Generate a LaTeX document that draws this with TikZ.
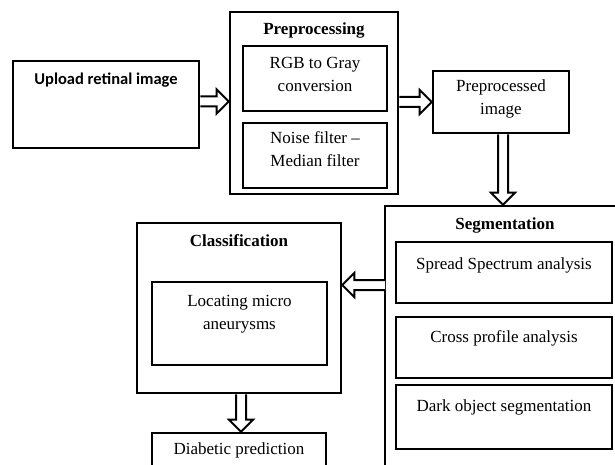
\documentclass[tikz,border=0pt]{standalone}
\usepackage{fontspec}
\setmainfont{Liberation Serif}
\newfontfamily\calib{Carlito}
\usetikzlibrary{calc}
\begin{document}
\begin{tikzpicture}[x=1pt,y=-1pt,
  box/.style={draw, line width=2.6pt, rectangle, inner sep=0pt},
  txt/.style={font=\fontsize{17}{23}\selectfont, align=center, inner sep=0pt},
  ttl/.style={font=\fontsize{17}{22}\selectfont\bfseries, inner sep=0pt},
  dbl/.style={draw, fill=white, line width=2pt, line join=miter,
    to path={($(\tikztostart)!5pt!90:(\tikztotarget)$)
      -- ($($(\tikztotarget)!12pt!(\tikztostart)$)!5pt!90:(\tikztotarget)$)
      -- ($($(\tikztotarget)!12pt!(\tikztostart)$)!12pt!90:(\tikztotarget)$)
      -- (\tikztotarget)
      -- ($($(\tikztotarget)!12pt!(\tikztostart)$)!12pt!-90:(\tikztotarget)$)
      -- ($($(\tikztotarget)!12pt!(\tikztostart)$)!5pt!-90:(\tikztotarget)$)
      -- ($(\tikztostart)!5pt!-90:(\tikztotarget)$)}}]
\clip (0,0) rectangle (615,465);
\fill[white] (0,0) rectangle (615,465);
% boxes
\node[box, minimum width=186pt, minimum height=87pt] (upload) at (106,104.5) {};
\node[font=\calib\fontsize{16.5}{18}\selectfont\bfseries, inner sep=0pt] at (106,80) {Upload retinal image};
\node[box, minimum width=168pt, minimum height=182pt] (pre) at (314,103) {};
\node[ttl] at (314,30) {Preprocessing};
\node[box, minimum width=144pt, minimum height=65pt] (rgb) at (315,78.5) {};
\node[txt] at (315,74) {RGB to Gray\\conversion};
\node[box, minimum width=144pt, minimum height=65pt] (noise) at (315,155.5) {};
\node[txt] at (315,149) {Noise filter --\\Median filter};
\node[box, minimum width=136pt, minimum height=62pt] (ppi) at (501,102) {};
\node[txt] at (501,98.5) {Preprocessed\\image};
\node[box, minimum width=250pt, minimum height=280pt] (seg) at (510,346) {};
\node[ttl] at (505,225) {Segmentation};
\node[box, minimum width=216pt, minimum height=61pt] (spr) at (504,272.5) {};
\node[txt] at (504,265) {Spread Spectrum analysis};
\node[box, minimum width=216pt, minimum height=61pt] (cross) at (504,347.5) {};
\node[txt] at (504,338) {Cross profile analysis};
\node[box, minimum width=216pt, minimum height=64pt] (dark) at (504,417) {};
\node[txt] at (504,407) {Dark object segmentation};
\node[box, minimum width=204pt, minimum height=170pt] (cls) at (239,308) {};
\node[ttl] at (239,241) {Classification};
\node[box, minimum width=175pt, minimum height=83pt] (loc) at (239.5,323.5) {};
\node[txt] at (239.5,314) {Locating micro\\aneurysms};
\node[box, minimum width=174pt, minimum height=60pt] (diab) at (239,463) {};
\node[txt] at (239,450) {Diabetic prediction};
% arrows
\path[dbl] ([yshift=3pt]upload.east) to ([yshift=3pt]upload.east -| pre.west);
\path[dbl] (pre.east |- ppi.west) to (ppi.west);
\path[dbl] ([xshift=2pt]ppi.south) to ([xshift=2pt]ppi.south |- seg.north);
\coordinate (a3) at (385,285);
\path[dbl] (a3) to (a3 -| cls.east);
\path[dbl] ([xshift=2pt]cls.south) to ([xshift=2pt]cls.south |- diab.north);
\end{tikzpicture}
\end{document}
